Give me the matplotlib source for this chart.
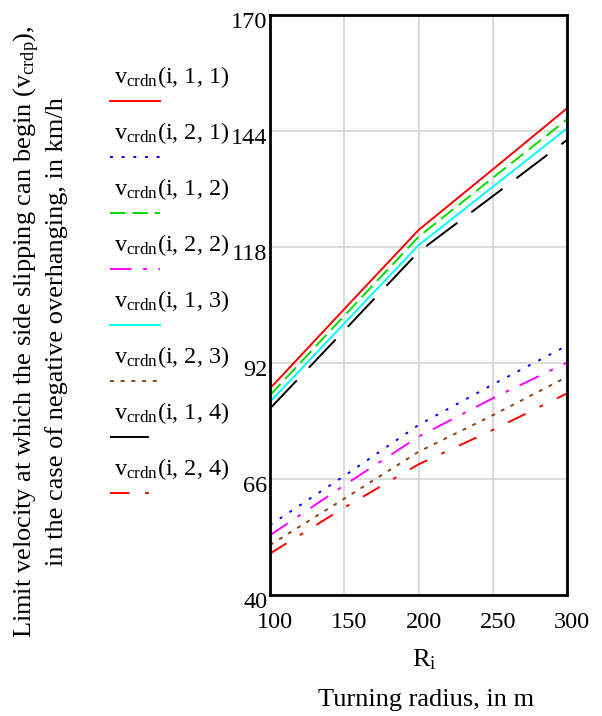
import numpy as np
import matplotlib
matplotlib.use("Agg")
import matplotlib.pyplot as plt
import matplotlib.transforms as mtransforms
from matplotlib.lines import Line2D

#--------------- Style ---------------------
plt.rcParams['font.family'] = 'Liberation Serif'
plt.rcParams['mathtext.fontset'] = 'custom'
plt.rcParams['mathtext.rm'] = 'Liberation Serif'
plt.rcParams['mathtext.it'] = 'Liberation Serif:italic'
plt.rcParams['font.size'] = 17.5

# ---------------- data ----------------
radius = [100, 150, 200, 250, 300]

v_i_1_1 = [86.4, 104.2, 121.9, 135.5, 149.2]
v_i_2_1 = [55.8, 66.8, 78.2, 87.3, 96.0]
v_i_1_2 = [84.9, 102.7, 120.4, 133.6, 146.7]
v_i_2_2 = [53.5, 64.7, 75.6, 84.2, 92.2]
v_i_1_3 = [83.4, 101.0, 118.5, 131.6, 144.7]
v_i_2_3 = [51.3, 61.7, 72.2, 80.4, 89.0]
v_i_1_4 = [81.9, 99.4, 117.0, 129.5, 142.1]
v_i_2_4 = [49.4, 59.7, 69.4, 77.1, 85.3]

labels = ["(i, 1, 1)", "(i, 2, 1)", "(i, 1, 2)", "(i, 2, 2)",
          "(i, 1, 3)", "(i, 2, 3)", "(i, 1, 4)", "(i, 2, 4)"]
series = [v_i_1_1, v_i_2_1, v_i_1_2, v_i_2_2, v_i_1_3, v_i_2_3, v_i_1_4, v_i_2_4]

x_ticks = [100, 150, 200, 250, 300]
y_ticks = [40, 66, 92, 118, 144, 170]

colors = ["#ff0000", "#0000ff", "#00dd00", "#ff00ff",
          "#00ffff", "#8b4513", "#000000", "#ff0000"]
styles = ["-", (0, (1.5, 4.5)), (0, (8, 3.5)), (0, (11, 6, 2, 6)),
          "-", (0, (2, 3.5)), (0, (20, 9)), (0, (10, 8, 2, 8))]

# ---------------- plot ----------------
fig = plt.figure(figsize=(6.02, 7.16), dpi=100)
ax = fig.add_axes([0.4485, 0.1683, 0.4934, 0.8101])

for vals, c, ls in zip(series, colors, styles):
    ax.plot(radius, vals, color=c, linestyle=ls, linewidth=1.4)

ax.set_xlim(100, 300)
ax.set_ylim(40, 170)
ax.set_xticks(x_ticks)
ax.set_yticks(y_ticks)
ax.grid(True, color="#d6d6d6", linewidth=1.2)
ax.set_axisbelow(True)
ax.tick_params(axis='x', length=0, pad=12, labelsize=17.5)
ax.tick_params(axis='y', length=0, pad=2, labelsize=17.5)
for sp in ax.spines.values():
    sp.set_linewidth(2)
    sp.set_color("black")

# Mathcad-like offsets of tick labels
xoff = mtransforms.ScaledTranslation(5 / 100, 0, fig.dpi_scale_trans)
yoff = mtransforms.ScaledTranslation(0, -5 / 100, fig.dpi_scale_trans)
for lbl in ax.get_xticklabels():
    lbl.set_transform(lbl.get_transform() + xoff)
for lbl in ax.get_yticklabels():
    lbl.set_transform(lbl.get_transform() + yoff)

# x labels
fig.text(424 / 602, 1 - 660 / 716, r"R$_{\mathrm{i}}$", ha="center", va="center", fontsize=19)
fig.text(426 / 602, 1 - 700 / 716, "Turning radius, in m", ha="center", va="center", fontsize=19)

# y label (two lines)
fig.text(27 / 602, 1 - 332 / 716,
         r"Limit velocity at which the side slipping can begin (v$_{\mathrm{crdp}}$),",
         rotation=90, ha="center", va="center", fontsize=19)
fig.text(57 / 602, 1 - 332 / 716,
         "in the case of negative overhanging, in km/h",
         rotation=90, ha="center", va="center", fontsize=19)

# legend at left of the axes
for k, (lab, c, ls) in enumerate(zip(labels, colors, styles)):
    ty = 1 - (77 + 56 * k) / 716
    ly = 1 - (101 + 56 * k) / 716
    fig.text(114 / 602, ty, r"v$_{\mathrm{crdn}}$" + lab, ha="left", va="center", fontsize=17.5)
    fig.add_artist(Line2D([110 / 602, 160 / 602], [ly, ly], transform=fig.transFigure,
                          color=c, linestyle=ls, linewidth=1.4))

fig.savefig("out.png", dpi=100)
